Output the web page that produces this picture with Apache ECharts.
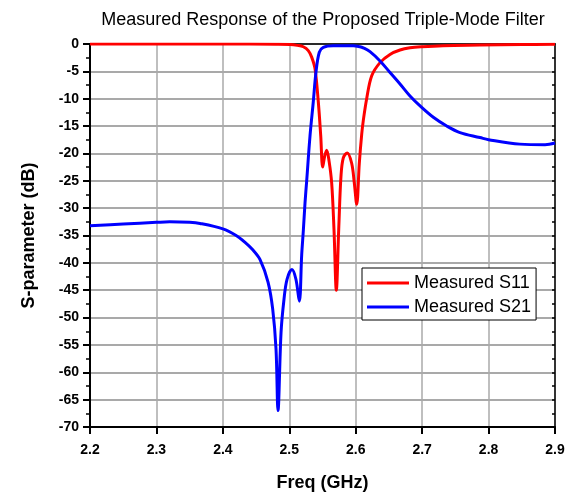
<!DOCTYPE html>
<html>
<head>
<meta charset="utf-8">
<script src="https://cdn.jsdelivr.net/npm/echarts@6/dist/echarts.min.js"></script>
<style>
html, body { margin: 0; padding: 0; background: #fff; }
#chart { width: 574px; height: 497px; }
</style>
</head>
<body>
<div id="chart"></div>
<script>
// measured S11, frequency (GHz) / dB
var s11Freq = [2.2, 2.3, 2.4, 2.48, 2.501, 2.512, 2.5211, 2.5286, 2.5337, 2.5387, 2.5437, 2.5473, 2.5503,
  2.5533, 2.5563, 2.560, 2.5638, 2.5673, 2.5708, 2.5744, 2.5778, 2.5813, 2.5873, 2.5939, 2.5979, 2.6015,
  2.6054, 2.609, 2.6114, 2.6165, 2.6241, 2.6366, 2.6516, 2.6667, 2.6817, 2.6993, 2.7314, 2.787, 2.85, 2.9];
var s11Db = [0, 0, 0, -0.05, -0.1, -0.25, -0.5, -1.2, -2.4, -4.5, -10.6, -16.7, -22.5,
  -20.5, -19.4, -21.5, -25.4, -33.9, -45, -33.9, -24.2, -20.8, -19.9, -21.8, -25.4, -29.3,
  -21.8, -16.5, -14, -10, -5.8, -3.4, -1.9, -1.1, -0.7, -0.5, -0.3, -0.2, -0.1, -0.05];

// measured S21
var s21Freq = [2.2, 2.25, 2.3, 2.32, 2.35, 2.3656, 2.4, 2.42, 2.433, 2.445, 2.456, 2.468, 2.475, 2.48, 2.483,
  2.4876, 2.492, 2.4966, 2.504, 2.51, 2.5151, 2.5187, 2.5212, 2.5237, 2.5262, 2.5312, 2.5361, 2.5402, 2.5452,
  2.5512, 2.5662, 2.5964, 2.6064, 2.6114, 2.6215, 2.6366, 2.6516, 2.6667, 2.6817, 2.6993, 2.7168, 2.737,
  2.757, 2.787, 2.8, 2.847, 2.885, 2.9];
var s21Db = [-33.2, -32.9, -32.6, -32.5, -32.6, -32.8, -33.8, -35, -36.2, -37.6, -39.4, -43.5, -48.4, -55.7, -67,
  -52.7, -46.7, -43, -41.2, -43, -47, -38.5, -34, -29, -25, -16.8, -10.6, -5.1, -1.5,
  -0.6, -0.3, -0.3, -0.5, -0.7, -1.4, -3.1, -5.2, -7.3, -9.5, -11.6, -13.4, -15,
  -16.2, -17.1, -17.5, -18.3, -18.4, -18.1];

var titleText = 'Measured Response of the Proposed Triple-Mode Filter';
var seriesNames = ['Measured S11', 'Measured S21'];

function pairs(xs, ys) {
  return xs.map(function (x, i) { return [x, ys[i]]; });
}

var font = '"Liberation Sans", Arial, sans-serif';
var myChart = echarts.init(document.getElementById('chart'));

var option = {
  animation: false,
  title: {
    text: titleText,
    left: 318, textAlign: 'center',
    top: 6,
    textStyle: { fontFamily: font, fontSize: 18, fontWeight: 'normal', color: '#000' }
  },
  legend: {
    orient: 'vertical',
    left: 362, top: 268,
    padding: [6, 5, 4, 5],
    itemGap: 6,
    itemWidth: 42, itemHeight: 3,
    icon: 'rect',
    backgroundColor: '#fff',
    borderColor: '#000', borderWidth: 1,
    textStyle: { fontFamily: font, fontSize: 18, color: '#000', padding: [0, 0, 0, 0] },
    data: seriesNames
  },
  grid: { left: 90, right: 19, top: 44, bottom: 69 },
  xAxis: [{
    type: 'value', min: 2.2, max: 2.9, interval: 0.1,
    name: 'Freq (GHz)', nameLocation: 'middle', nameGap: 47,
    nameTextStyle: { fontFamily: font, fontSize: 18, fontWeight: 'bold', color: '#000' },
    axisLine: { onZero: false, lineStyle: { color: '#000', width: 2 } },
    axisTick: { length: 7, lineStyle: { color: '#000', width: 2 } },
    axisLabel: { fontFamily: font, fontSize: 14, fontWeight: 'bold', color: '#000', margin: 16,
      formatter: function (v) { return v.toFixed(1); } },
    splitLine: { show: true, lineStyle: { color: '#aaaaaa', width: 1.5 } }
  }, {
    type: 'value', min: 2.2, max: 2.9, interval: 0.1, position: 'top',
    axisLine: { onZero: false, lineStyle: { color: '#000', width: 1.5 } },
    axisTick: { show: false }, axisLabel: { show: false }, splitLine: { show: false }
  }],
  yAxis: [{
    type: 'value', min: -70, max: 0, interval: 5,
    name: 'S-parameter (dB)', nameLocation: 'middle', nameGap: 52,
    nameTextStyle: { fontFamily: font, fontSize: 18, fontWeight: 'bold', color: '#000' },
    axisLine: { show: true, onZero: false, lineStyle: { color: '#000', width: 2 } },
    axisTick: { show: true, length: 7, lineStyle: { color: '#000', width: 2 } },
    minorTick: { show: true, splitNumber: 2, length: 4, lineStyle: { color: '#000', width: 1.5 } },
    axisLabel: { fontFamily: font, fontSize: 14, fontWeight: 'bold', color: '#000', margin: 11 },
    splitLine: { show: true, lineStyle: { color: '#8c8c8c', width: 1.5 } }
  }, {
    type: 'value', min: -70, max: 0, interval: 5, position: 'right',
    axisLine: { show: true, onZero: false, lineStyle: { color: '#333', width: 2 } },
    axisTick: { show: true, inside: true, length: 3, lineStyle: { color: '#000', width: 1.5 } },
    minorTick: { show: true, splitNumber: 2, length: 3, lineStyle: { color: '#000', width: 1.5 } },
    axisLabel: { show: false }, splitLine: { show: false }
  }],
  series: [{
    name: seriesNames[0], type: 'line', showSymbol: false, smooth: 0.35,
    color: '#ff0000', lineStyle: { color: '#ff0000', width: 3 },
    data: pairs(s11Freq, s11Db), z: 3
  }, {
    name: seriesNames[1], type: 'line', showSymbol: false, smooth: 0.35,
    color: '#0000ff', lineStyle: { color: '#0000ff', width: 3 },
    data: pairs(s21Freq, s21Db), z: 4
  }]
};

myChart.setOption(option);
</script>
</body>
</html>
